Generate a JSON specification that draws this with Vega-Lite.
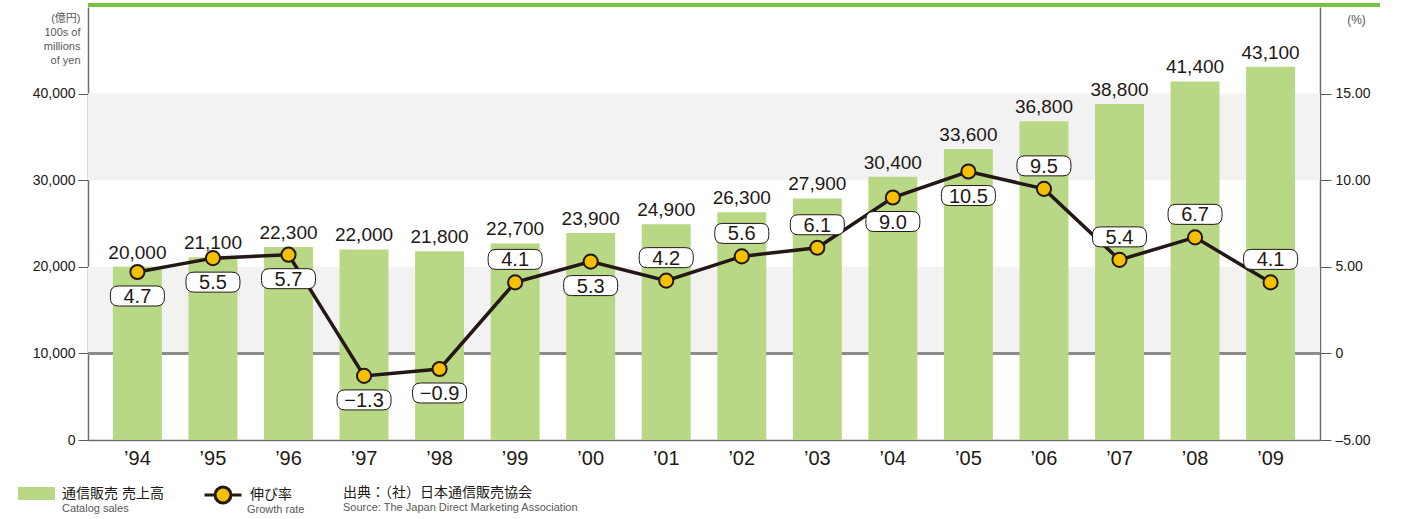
{
  "$schema": "https://vega.github.io/schema/vega-lite/v6.json",
  "width": 1232,
  "height": 433,
  "autosize": {"type": "none"},
  "padding": {"left": 88, "top": 7, "right": 100, "bottom": 79},
  "background": "white",
  "config": {
    "font": "Liberation Sans, Noto Sans CJK JP, sans-serif",
    "view": {"stroke": null},
    "axis": {"grid": false},
    "legend": {
      "orient": "none",
      "padding": 0,
      "titleOrient": "bottom",
      "titleAnchor": "start",
      "titleFontSize": 11,
      "titleFontWeight": "normal",
      "titleColor": "#595757",
      "titlePadding": 2,
      "titleLimit": 400,
      "labelFontSize": 14,
      "labelColor": "#231815",
      "labelBaseline": "middle",
      "labelOffset": 7,
      "labelLimit": 400
    }
  },
  "data": {
    "values": [
      {"year": "’94", "sales": 20000, "growth": 4.7, "pos": "below"},
      {"year": "’95", "sales": 21100, "growth": 5.5, "pos": "below"},
      {"year": "’96", "sales": 22300, "growth": 5.7, "pos": "below"},
      {"year": "’97", "sales": 22000, "growth": -1.3, "pos": "below"},
      {"year": "’98", "sales": 21800, "growth": -0.9, "pos": "below"},
      {"year": "’99", "sales": 22700, "growth": 4.1, "pos": "above"},
      {"year": "’00", "sales": 23900, "growth": 5.3, "pos": "below"},
      {"year": "’01", "sales": 24900, "growth": 4.2, "pos": "above"},
      {"year": "’02", "sales": 26300, "growth": 5.6, "pos": "above"},
      {"year": "’03", "sales": 27900, "growth": 6.1, "pos": "above"},
      {"year": "’04", "sales": 30400, "growth": 9.0, "pos": "below"},
      {"year": "’05", "sales": 33600, "growth": 10.5, "pos": "below"},
      {"year": "’06", "sales": 36800, "growth": 9.5, "pos": "above"},
      {"year": "’07", "sales": 38800, "growth": 5.4, "pos": "above"},
      {"year": "’08", "sales": 41400, "growth": 6.7, "pos": "above"},
      {"year": "’09", "sales": 43100, "growth": 4.1, "pos": "above"}
    ]
  },
  "layer": [
    {
      "layer": [
        {
          "data": {"values": [{"lo": 10000, "hi": 20000}, {"lo": 30000, "hi": 40000}]},
          "mark": {"type": "rect", "color": "#f2f2f2"},
          "encoding": {
            "y": {
              "field": "lo", "type": "quantitative",
              "scale": {"domain": [0, 50000], "nice": false},
              "axis": {
                "orient": "left",
                "values": [0, 10000, 20000, 30000, 40000],
                "labelExpr": "format(datum.value, ',')",
                "labelFontSize": 14,
                "labelColor": "#231815",
                "labelPadding": 3,
                "tickSize": 10,
                "tickColor": "#595757",
                "domainColor": "#6e6e6e",
                "domainWidth": 1.5,
                "title": ["(億円)", "100s of", "millions", "of yen"],
                "titleAngle": 0,
                "titleAlign": "right",
                "titleBaseline": "alphabetic",
                "titleX": -8,
                "titleY": 14,
                "titleFontSize": 11,
                "titleFontWeight": "normal",
                "titleColor": "#595757",
                "titleLineHeight": 14
              }
            },
            "y2": {"field": "hi"}
          }
        },
        {
          "mark": {"type": "rule", "color": "#8c8c8c", "strokeWidth": 1.5},
          "encoding": {
            "y": {"datum": 10000, "type": "quantitative", "scale": {"domain": [0, 50000], "nice": false}}
          }
        },
        {
          "mark": {"type": "bar", "color": "#b9d886"},
          "encoding": {
            "x": {
              "field": "year", "type": "ordinal", "sort": null,
              "scale": {"paddingInner": 0.352, "paddingOuter": 0.33},
              "axis": {
                "title": null,
                "labelAngle": 0,
                "ticks": false,
                "domainColor": "#6e6e6e",
                "domainWidth": 1.5,
                "labelFont": "Liberation Sans Narrow, Liberation Sans",
                "labelFontSize": 20,
                "labelColor": "#231815",
                "labelPadding": 8
              }
            },
            "y": {"field": "sales", "type": "quantitative", "scale": {"domain": [0, 50000], "nice": false}},
            "fill": {
              "datum": "通信販売 売上高", "type": "nominal",
              "scale": {"range": ["#b9d886"]},
              "legend": {
                "legendX": -70,
                "legendY": 468,
                "title": "Catalog sales",
                "symbolType": "M -1 -0.35 L 1 -0.35 L 1 0.35 L -1 0.35 Z",
                "symbolSize": 1369,
                "symbolStrokeWidth": 0,
                "encode": {"title": {"update": {"dx": {"value": 44}}}}
              }
            },
            "opacity": {
              "datum": "出典：（社）日本通信販売協会", "type": "ordinal",
              "scale": {"range": [1]},
              "legend": {
                "legendX": 255,
                "legendY": 479,
                "title": "Source: The Japan Direct Marketing Association",
                "symbolType": "square",
                "symbolSize": 0,
                "symbolStrokeWidth": 0,
                "symbolFillColor": "transparent",
                "labelOffset": -14,
                "encode": {"symbols": {"update": {"fill": {"value": "transparent"}, "fillOpacity": {"value": 0}, "strokeOpacity": {"value": 0}}}}
              }
            }
          }
        },
        {
          "mark": {"type": "text", "baseline": "alphabetic", "dy": -8, "fontSize": 19, "color": "#231815"},
          "encoding": {
            "x": {"field": "year", "type": "ordinal", "sort": null},
            "y": {"field": "sales", "type": "quantitative", "scale": {"domain": [0, 50000], "nice": false}},
            "text": {"field": "sales", "type": "quantitative", "format": ","}
          }
        },
        {
          "mark": {"type": "rule", "color": "#7dc142", "strokeWidth": 3, "xOffset": 60, "yOffset": -2},
          "encoding": {
            "y": {"datum": 50000, "type": "quantitative", "scale": {"domain": [0, 50000], "nice": false}}
          }
        }
      ]
    },
    {
      "layer": [
        {
          "mark": {"type": "line", "strokeWidth": 3.5},
          "encoding": {
            "x": {"field": "year", "type": "ordinal", "sort": null},
            "y": {
              "field": "growth", "type": "quantitative",
              "scale": {"domain": [-5, 20], "nice": false},
              "axis": {
                "orient": "right",
                "values": [-5, 0, 5, 10, 15],
                "labelExpr": "datum.value == 0 ? '0' : (datum.value < 0 ? '–' + format(-datum.value, '.2f') : format(datum.value, '.2f'))",
                "labelFontSize": 14,
                "labelColor": "#231815",
                "labelPadding": 4,
                "tickSize": 11,
                "tickColor": "#595757",
                "domainColor": "#6e6e6e",
                "domainWidth": 1.5,
                "title": "(%)",
                "titleAngle": 0,
                "titleAlign": "center",
                "titleBaseline": "alphabetic",
                "titleX": 36,
                "titleY": 16,
                "titleFontSize": 12,
                "titleFontWeight": "normal",
                "titleColor": "#595757"
              }
            },
            "stroke": {
              "datum": "伸び率", "type": "nominal",
              "scale": {"range": ["#231815"]},
              "legend": {
                "legendX": 115,
                "legendY": 468,
                "title": "Growth rate",
                "titlePadding": -5,
                "symbolType": "M -1 0 L -0.43 0 M 0.43 0 L 1 0 M 0.43 0 A 0.43 0.43 0 1 1 -0.43 0 A 0.43 0.43 0 1 1 0.43 0 Z",
                "symbolSize": 1369,
                "symbolStrokeWidth": 3,
                "symbolFillColor": "#f5c000",
                "encode": {
                  "title": {"update": {"dx": {"value": 44}}},
                  "symbols": {"update": {"fill": {"value": "#f5c000"}, "fillOpacity": {"value": 1}, "strokeWidth": {"value": 3}}}
                }
              }
            }
          }
        },
        {
          "mark": {"type": "point", "filled": true, "fill": "#f5c000", "stroke": "#231815", "strokeWidth": 2, "size": 200, "opacity": 1},
          "encoding": {
            "x": {"field": "year", "type": "ordinal", "sort": null},
            "y": {"field": "growth", "type": "quantitative", "scale": {"domain": [-5, 20], "nice": false}}
          }
        },
        {
          "transform": [{"filter": "datum.pos == 'below'"}],
          "mark": {"type": "point", "shape": "M -0.95 -0.5 L 0.95 -0.5 Q 1.35 -0.5 1.35 -0.1 L 1.35 0.1 Q 1.35 0.5 0.95 0.5 L -0.95 0.5 Q -1.35 0.5 -1.35 0.1 L -1.35 -0.1 Q -1.35 -0.5 -0.95 -0.5 Z", "size": 1600, "filled": true, "fill": "white", "stroke": "#231815", "strokeWidth": 1, "opacity": 1, "yOffset": 24},
          "encoding": {
            "x": {"field": "year", "type": "ordinal", "sort": null},
            "y": {"field": "growth", "type": "quantitative", "scale": {"domain": [-5, 20], "nice": false}}
          }
        },
        {
          "transform": [{"filter": "datum.pos == 'above'"}],
          "mark": {"type": "point", "shape": "M -0.95 -0.5 L 0.95 -0.5 Q 1.35 -0.5 1.35 -0.1 L 1.35 0.1 Q 1.35 0.5 0.95 0.5 L -0.95 0.5 Q -1.35 0.5 -1.35 0.1 L -1.35 -0.1 Q -1.35 -0.5 -0.95 -0.5 Z", "size": 1600, "filled": true, "fill": "white", "stroke": "#231815", "strokeWidth": 1, "opacity": 1, "yOffset": -23},
          "encoding": {
            "x": {"field": "year", "type": "ordinal", "sort": null},
            "y": {"field": "growth", "type": "quantitative", "scale": {"domain": [-5, 20], "nice": false}}
          }
        },
        {
          "transform": [{"filter": "datum.pos == 'below'"}],
          "mark": {"type": "text", "baseline": "middle", "fontSize": 20, "color": "#231815", "yOffset": 25},
          "encoding": {
            "x": {"field": "year", "type": "ordinal", "sort": null},
            "y": {"field": "growth", "type": "quantitative", "scale": {"domain": [-5, 20], "nice": false}},
            "text": {"field": "growth", "type": "quantitative", "format": ".1f"}
          }
        },
        {
          "transform": [{"filter": "datum.pos == 'above'"}],
          "mark": {"type": "text", "baseline": "middle", "fontSize": 20, "color": "#231815", "yOffset": -22},
          "encoding": {
            "x": {"field": "year", "type": "ordinal", "sort": null},
            "y": {"field": "growth", "type": "quantitative", "scale": {"domain": [-5, 20], "nice": false}},
            "text": {"field": "growth", "type": "quantitative", "format": ".1f"}
          }
        }
      ]
    }
  ],
  "resolve": {"scale": {"y": "independent", "fill": "independent", "stroke": "independent", "opacity": "independent"}}
}
